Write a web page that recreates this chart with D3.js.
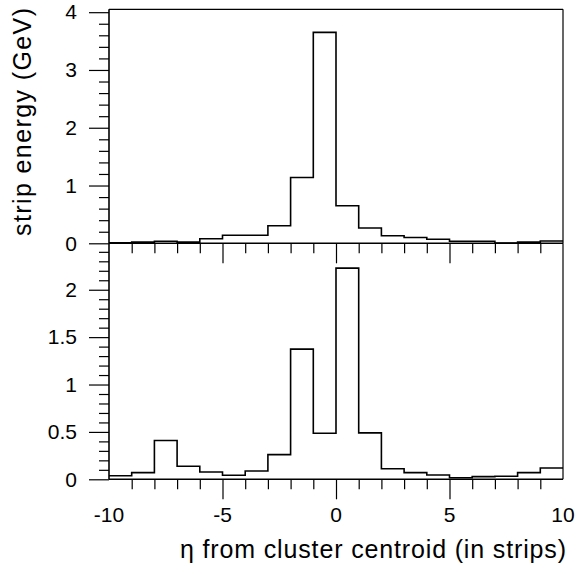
<!DOCTYPE html>
<html>
<head>
<meta charset="utf-8">
<script src="https://cdn.jsdelivr.net/npm/d3@7"></script>
<style>
  body { margin: 0; background: #fff; }
  text { font-family: "Liberation Sans", Arial, Helvetica, sans-serif; fill: #000; }
</style>
</head>
<body>
<div id="body"></div>
<script>
// bin edges -10..10, one strip per bin
var binEdges = d3.range(-10, 11, 1);
var topEnergy = [0.01, 0.02, 0.035, 0.02, 0.08, 0.14, 0.14, 0.305, 1.14, 3.65,
                 0.65, 0.265, 0.13, 0.10, 0.07, 0.035, 0.035, 0.005, 0.02, 0.04];
var bottomEnergy = [0.038, 0.07, 0.41, 0.137, 0.077, 0.042, 0.088, 0.26, 1.373, 0.486,
                    2.228, 0.49, 0.112, 0.07, 0.045, 0.017, 0.028, 0.032, 0.07, 0.12];
var xTicks = [-10, -5, 0, 5, 10];
var topYTicks = [0, 1, 2, 3, 4];
var bottomYTicks = [0, 0.5, 1, 1.5, 2];

var W = 578, H = 574;
var left = 109, right = 563;
var topY0 = 9.3, midY = 243.3, botY = 479.3;

var svg = d3.select("#body").append("svg")
    .attr("width", W).attr("height", H);

var x = d3.scaleLinear().domain([-10, 10]).range([left, right]);
var yTop = d3.scaleLinear().domain([0, 4.05]).range([midY, topY0]);
var yBot = d3.scaleLinear().domain([0, 2.49]).range([botY, midY]);

function stepLine(vals) {
    var pts = [];
    vals.forEach(function(v, i){
        pts.push([binEdges[i], v]);
        pts.push([binEdges[i + 1], v]);
    });
    return pts;
}

function panel(y, vals, majors, minorStep, yMax, drawTop) {
    var g = svg.append("g");
    // histogram
    var line = d3.line().x(function(d){ return x(d[0]); }).y(function(d){ return y(d[1]); });
    g.append("path").datum(stepLine(vals))
        .attr("d", line).attr("fill", "none")
        .attr("stroke", "#000").attr("stroke-width", 1.6);

    // frame
    var y0 = y(0), y1 = y.range()[1];
    g.append("line").attr("x1", left).attr("x2", left).attr("y1", y0).attr("y2", y1)
        .attr("stroke", "#000").attr("stroke-width", 1.6);
    g.append("line").attr("x1", right).attr("x2", right).attr("y1", y0).attr("y2", y1)
        .attr("stroke", "#000").attr("stroke-width", 1.2);
    g.append("line").attr("x1", left).attr("x2", right).attr("y1", y0).attr("y2", y0)
        .attr("stroke", "#000").attr("stroke-width", 1.6);
    if (drawTop)
        g.append("line").attr("x1", left).attr("x2", right).attr("y1", y1).attr("y2", y1)
            .attr("stroke", "#000").attr("stroke-width", 1.2);

    // y ticks (outside, to the left)
    var minors = d3.range(0, yMax + 1e-9, minorStep).filter(function(v){
        return majors.every(function(m){ return Math.abs(m - v) > 1e-6; });
    });
    var yAxisMaj = d3.axisLeft(y).tickValues(majors).tickSize(20).tickPadding(12)
        .tickFormat(function(d){ return d3.format("")(d); });
    var ga = g.append("g").attr("transform", "translate(" + left + ",0)").call(yAxisMaj);
    ga.select(".domain").remove();
    ga.selectAll("text").style("font-size", "21px").attr("fill", "#000");
    var gm = g.append("g").attr("transform", "translate(" + left + ",0)")
        .call(d3.axisLeft(y).tickValues(minors).tickSize(10).tickFormat(""));
    gm.select(".domain").remove();

    // x ticks (downward from the panel's bottom axis)
    var xMin = d3.range(-9, 10, 1).filter(function(v){ return v % 5 !== 0; });
    var gx = g.append("g").attr("transform", "translate(0," + y0 + ")")
        .call(d3.axisBottom(x).tickValues(xMin).tickSize(10).tickFormat(""));
    gx.select(".domain").remove();
    var gxM = g.append("g").attr("transform", "translate(0," + y0 + ")")
        .call(d3.axisBottom(x).tickValues([-5, 0, 5]).tickSize(20).tickFormat(""));
    gxM.select(".domain").remove();
    g.selectAll(".tick line").attr("stroke", "#000").attr("stroke-width", 1.2);
    return g;
}

panel(yTop, topEnergy, topYTicks, 0.2, 4.05, true);
panel(yBot, bottomEnergy, bottomYTicks, 0.1, 2.49, false);

// x tick labels under the bottom panel
svg.append("g").selectAll("text").data(xTicks).enter().append("text")
    .attr("x", function(d){ return x(d); })
    .attr("y", 522)
    .attr("text-anchor", "middle")
    .style("font-size", "21px")
    .text(function(d){ return d; });

// axis titles
svg.append("text")
    .attr("x", 566).attr("y", 558)
    .attr("text-anchor", "end")
    .attr("textLength", 386).attr("lengthAdjust", "spacing")
    .style("font-size", "25px")
    .text("\u03b7 from cluster centroid (in strips)");

svg.append("text")
    .attr("transform", "translate(31,8) rotate(-90)")
    .attr("text-anchor", "end")
    .attr("textLength", 228).attr("lengthAdjust", "spacing")
    .style("font-size", "25px")
    .text("strip energy (GeV)");
</script>
</body>
</html>
